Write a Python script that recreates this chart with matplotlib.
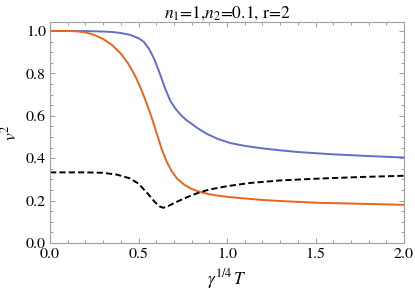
import numpy as np
import matplotlib
matplotlib.use("Agg")
import matplotlib.pyplot as plt
from matplotlib.ticker import MultipleLocator

plt.rcParams['font.family'] = ['STIXGeneral', 'DejaVu Serif']
plt.rcParams['mathtext.fontset'] = 'stix'

# curves (x = gamma^(1/4) T)
blue_x = [0, 0.2, 0.3, 0.35, 0.4, 0.45, 0.5, 0.53, 0.56, 0.59, 0.62, 0.65, 0.68, 0.71,
          0.74, 0.77, 0.80, 0.84, 0.885, 0.95, 1.02, 1.1, 1.2, 1.3, 1.4, 1.6, 1.8, 2.0]
blue_y = [1.0, 0.999, 0.997, 0.995, 0.99, 0.982, 0.966, 0.948, 0.915, 0.865, 0.80, 0.73, 0.67, 0.632,
          0.603, 0.58, 0.562, 0.538, 0.515, 0.49, 0.471, 0.458, 0.446, 0.437, 0.429, 0.418, 0.41, 0.403]

orange_x = [0, 0.1, 0.15, 0.2, 0.25, 0.3, 0.35, 0.4, 0.44, 0.48, 0.51, 0.54, 0.57, 0.6, 0.63,
            0.66, 0.69, 0.72, 0.76, 0.8, 0.85, 0.9, 0.95, 1.02, 1.1, 1.2, 1.3, 1.5, 1.75, 2.0]
orange_y = [1.0, 1.0, 0.998, 0.993, 0.981, 0.962, 0.934, 0.893, 0.848, 0.79, 0.735, 0.672, 0.603, 0.525, 0.445,
            0.382, 0.335, 0.302, 0.274, 0.255, 0.24, 0.23, 0.223, 0.216, 0.21, 0.203, 0.198, 0.19, 0.185, 0.18]

dash_x = [0, 0.1, 0.2, 0.3, 0.38, 0.45, 0.5, 0.55, 0.59, 0.62, 0.64, 0.67, 0.7, 0.75,
          0.8, 0.85, 0.9, 1.0, 1.13, 1.3, 1.5, 1.75, 2.0]
dash_y = [0.333, 0.333, 0.333, 0.331, 0.322, 0.305, 0.28, 0.235, 0.195, 0.172, 0.166, 0.175, 0.188, 0.207,
          0.225, 0.24, 0.252, 0.268, 0.283, 0.295, 0.303, 0.311, 0.317]

fig = plt.figure(figsize=(4.15, 2.90), dpi=100)
ax = fig.add_axes([50 / 415, 1 - 243 / 290, 354 / 415, 221 / 290])

ax.plot(blue_x, blue_y, color='#5F6FC8', lw=1.4)
ax.plot(orange_x, orange_y, color='#E8651C', lw=1.4)
ax.plot(dash_x, dash_y, color='black', lw=1.4, dashes=(3.2, 1.6))

ax.set_xlim(0, 2.0)
ax.set_ylim(0, 1.042)
ax.xaxis.set_major_locator(MultipleLocator(0.5))
ax.xaxis.set_minor_locator(MultipleLocator(0.1))
ax.yaxis.set_major_locator(MultipleLocator(0.2))
ax.yaxis.set_minor_locator(MultipleLocator(0.05))
ax.xaxis.set_major_formatter(lambda v, p: f'{v:.1f}')
ax.yaxis.set_major_formatter(lambda v, p: f'{v:.1f}')

for s in ax.spines.values():
    s.set_color('#A0A0A0')
    s.set_linewidth(0.8)
ax.tick_params(which='both', direction='in', top=True, right=True, color='#A0A0A0',
               labelsize=11.5, width=0.7)
ax.tick_params(which='major', length=3.6, pad=3)
ax.tick_params(which='minor', length=2.0)

ax.set_title(r'$n_1$=1,$n_2$=0.1, r=2', fontsize=12.5, pad=3)
ax.set_ylabel(r'$v^2$', fontsize=12.5, labelpad=4)
ax.set_xlabel(r'$\gamma^{1/4}\,T$', fontsize=12.5, labelpad=5)

fig.savefig('out.png', dpi=100)
